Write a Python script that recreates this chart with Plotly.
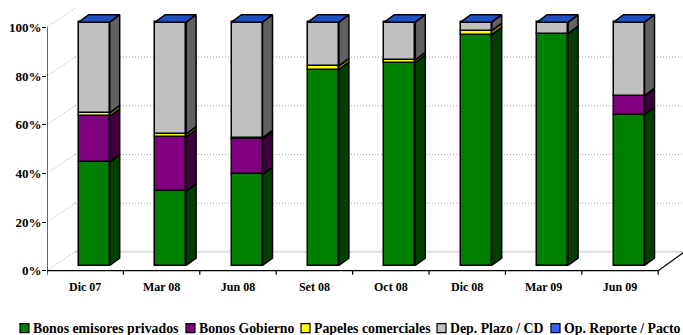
import plotly.graph_objects as go

# Portfolio composition by month, percent of total
categories = ["Dic 07", "Mar 08", "Jun 08", "Set 08", "Oct 08", "Dic 08", "Mar 09", "Jun 09"]
bonos_privados = [42.5, 30.5, 37.4, 80.5, 83.4, 94.8, 95.3, 62.0]
bonos_gobierno = [18.8, 22.3, 14.5, 0.0, 0.0, 0.0, 0.0, 7.5]
papeles_comerciales = [1.4, 1.2, 0.6, 1.5, 1.1, 1.7, 0.0, 0.3]
dep_plazo = [37.3, 46.0, 47.5, 18.0, 15.5, 3.5, 4.7, 30.2]
op_reporte = [0.0, 0.0, 0.0, 0.0, 0.0, 0.0, 0.0, 0.0]
y_ticks = [0, 20, 40, 60, 80, 100]

series = [
    ("Bonos emisores privados", bonos_privados, "#008000", "#004000"),
    ("Bonos Gobierno", bonos_gobierno, "#800080", "#400040"),
    ("Papeles comerciales", papeles_comerciales, "#FFFF00", "#808000"),
    ("Dep. Plazo / CD", dep_plazo, "#C0C0C0", "#606060"),
    ("Op. Reporte / Pacto", op_reporte, "#3366FF", "#2050C0"),
]

# Pseudo-3D projection, in axis units
W, H = 683, 335
PX_X = 76.4   # pixels per category
PX_Y = 2.44   # pixels per percent
LEFT, ZERO_Y = 47, 271
BAR_W = 31 / PX_X
BAR_SHIFT_X = 9.0 / PX_X
BAR_SHIFT_Y = 5.2 / PX_Y
DEPTH_X = 10 / PX_X
DEPTH_Y = 7.5 / PX_Y
WALL_X = 28 / PX_X
WALL_Y = 19 / PX_Y
x_max = (W - LEFT) / PX_X
y_min, y_max = -3.0, 110.0
n = len(categories)

fig = go.Figure()
centers = [i + 0.5 + BAR_SHIFT_X for i in range(n)]
cum = [BAR_SHIFT_Y] * n

# Front faces and side faces of each stacked segment
for name, vals, front, side in series[:-1]:
    fig.add_trace(go.Bar(
        x=centers, y=vals, base=cum, width=BAR_W, name=name,
        marker=dict(color=front, line=dict(color="black", width=1.5)),
        showlegend=False,
    ))
    sx, sy = [], []
    for c, b, v in zip(centers, cum, vals):
        if v <= 0:
            continue
        r = c + BAR_W / 2
        sx += [r, r + DEPTH_X, r + DEPTH_X, r, r, None]
        sy += [b, b + DEPTH_Y, b + v + DEPTH_Y, b + v, b, None]
    fig.add_trace(go.Scatter(
        x=sx, y=sy, mode="lines", fill="toself", fillcolor=side,
        line=dict(color="black", width=1.5), hoverinfo="skip", showlegend=False,
    ))
    cum = [b + v for b, v in zip(cum, vals)]

# Top cap of each column
tx, ty = [], []
for c, b, v in zip(centers, cum, op_reporte):
    l, r = c - BAR_W / 2, c + BAR_W / 2
    t = b + v
    tx += [l, l + DEPTH_X, r + DEPTH_X, r, l, None]
    ty += [t, t + DEPTH_Y, t + DEPTH_Y, t, t, None]
fig.add_trace(go.Scatter(
    x=tx, y=ty, mode="lines", fill="toself", fillcolor=series[-1][3],
    line=dict(color="black", width=1.5), hoverinfo="skip", showlegend=False,
))

# Axis lines and category separators
ax, ay = [0, 0, None, 0, n, None], [0, 100, None, 0, 0, None]
for i in range(n + 1):
    ax += [i, i, None]
    ay += [0, -4 / PX_Y, None]
ax += [n, n + 25 / PX_X]
ay += [0, 18 / PX_Y]
fig.add_trace(go.Scatter(
    x=ax, y=ay, mode="lines", line=dict(color="black", width=1.2),
    hoverinfo="skip", showlegend=False, cliponaxis=False,
))

# Back wall grid, kept behind the columns
shapes = []
dot = dict(color="#a0a0a0", width=1, dash="1px,2px")
for v in y_ticks:
    shapes.append(dict(type="line", xref="x", yref="y", layer="below",
                       x0=0, y0=v, x1=WALL_X, y1=v + WALL_Y, line=dot))
    if v == 0:
        shapes.append(dict(type="line", xref="x", yref="y", layer="below",
                           x0=WALL_X, y0=WALL_Y, x1=x_max, y1=WALL_Y,
                           line=dict(color="#dcdcdc", width=2)))
    elif v < 100:
        shapes.append(dict(type="line", xref="x", yref="y", layer="below",
                           x0=WALL_X, y0=v + WALL_Y, x1=x_max, y1=v + WALL_Y, line=dot))

# Legend row along the bottom
legend_swatch_x = [20, 186, 301, 437, 551]
legend_y = 328.5
annotations = []
plot_bottom = ZERO_Y + 3 * PX_Y
plot_height = PX_Y * (y_max - y_min)
for (name, _, front, _), sw in zip(series, legend_swatch_x):
    shapes.append(dict(type="rect", xref="paper", yref="paper",
                       x0=(sw - LEFT) / (W - LEFT), x1=(sw + 9 - LEFT) / (W - LEFT),
                       y0=-(legend_y + 4.5 - plot_bottom) / plot_height,
                       y1=-(legend_y - 4.5 - plot_bottom) / plot_height,
                       fillcolor=front, line=dict(color="black", width=1.2)))
    annotations.append(dict(
        xref="paper", yref="paper", xanchor="left", yanchor="middle", showarrow=False,
        x=(sw + 12 - LEFT) / (W - LEFT),
        y=-(legend_y - plot_bottom) / plot_height,
        text=f"<b>{name}</b>", font=dict(family="Liberation Serif", size=13.8, color="black"),
        borderpad=0,
    ))

fig.update_layout(
    width=W, height=H,
    margin=dict(l=LEFT, r=0, t=ZERO_Y - y_max * PX_Y, b=H - ZERO_Y + y_min * PX_Y, pad=0),
    paper_bgcolor="white", plot_bgcolor="white",
    barmode="overlay", bargap=0, showlegend=False,
    font=dict(family="Liberation Serif", color="black"),
    shapes=shapes, annotations=annotations,
    xaxis=dict(
        range=[0, x_max], tickmode="array",
        tickvals=[i + 0.5 for i in range(n)],
        ticktext=[f"<b>{c}</b>" for c in categories],
        ticks="", showgrid=False, zeroline=False, showline=False,
        tickfont=dict(size=12),
    ),
    yaxis=dict(
        range=[y_min, y_max], tickmode="array", tickvals=y_ticks,
        ticktext=[f"<b>{v}%</b>" for v in y_ticks],
        ticks="outside", ticklen=4, tickwidth=1.2, tickcolor="black",
        showgrid=False, zeroline=False, showline=False,
        tickfont=dict(size=13), ticklabelstandoff=-2,
    ),
)

fig.write_html("out.html", config=dict(displayModeBar=False))
